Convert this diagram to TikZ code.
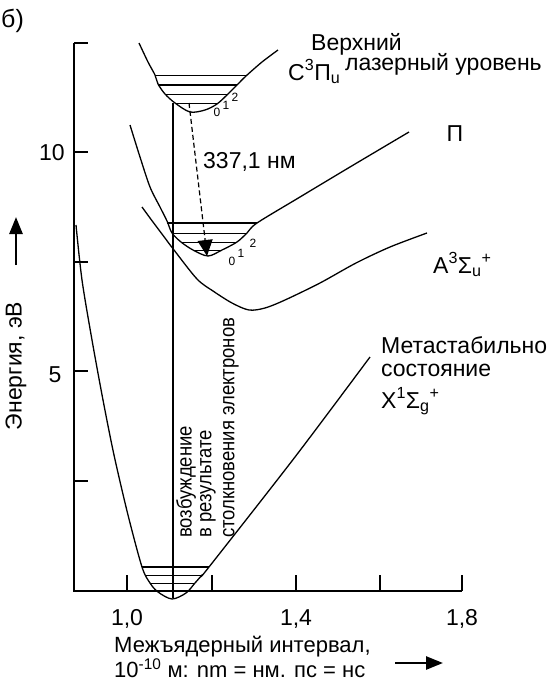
\documentclass[tikz,border=0pt]{standalone}
\usepackage{fontspec}
\usepackage{graphicx}
\setmainfont{Liberation Sans}
\usetikzlibrary{arrows.meta}
\newcommand{\trm}[2]{\textsubscript{#2}\textsuperscript{#1}}

\begin{document}
\begin{tikzpicture}[x=1pt, y=-1pt,
    txt/.style={font=\fontsize{23}{25}\selectfont, inner sep=0pt},
    rtxt/.style={font=\fontsize{21}{22}\selectfont, inner sep=0pt, rotate=90, anchor=west},
    num/.style={font=\fontsize{12}{13}\selectfont, inner sep=0pt},
    curve/.style={line width=1.3pt},
    lvl/.style={line width=0.9pt},
    lvlthick/.style={line width=2.4pt},
    axis/.style={line width=2pt},
    >={Triangle[length=17pt,width=13pt]}]
  \useasboundingbox (0,0) rectangle (557,681);

  % axes
  \coordinate (ytop) at (74,43);
  \coordinate (orig) at (74,591);
  \coordinate (xend) at (462,591);
  \draw[axis] (ytop) -- (orig) -- (xend);
  \foreach \t in {43,152,262,371,481}
    \draw[axis] (74,\t) -- +(14,0);
  \foreach \t in {127,212,296,380,462}
    \draw[axis] (\t,591) -- +(0,-16);
  \node[txt, anchor=base] (t10) at (127,625) {1,0};
  \node[txt, anchor=base] (t14) at (296,625) {1,4};
  \node[txt, anchor=base] (t18) at (462,625) {1,8};
  \node[txt, anchor=base] (e10) at (52,160) {10};
  \node[txt, anchor=base] (e5) at (55,382) {5};
  \node[txt, font=\fontsize{25}{27}\selectfont, anchor=base west] (fig) at (1,27) {б)};

  % axis labels
  \node[txt, rotate=90] (elbl) at (16,366) {Энергия, эВ};
  \coordinate (ea) at (16,265);
  \coordinate (eb) at (16,217);
  \draw[->, line width=2.6pt] (ea) -- (eb);
  \node[txt, font=\fontsize{22}{24}\selectfont, anchor=base west] (rlbl) at (114,652) {Межъядерный интервал,};
  \node[txt, font=\fontsize{22}{24}\selectfont, anchor=base west] (rlbl2) at (114,677) {10\textsuperscript{-10} м: nm = нм. пс = нс};
  \coordinate (ra) at (395,663);
  \coordinate (rb) at (443,663);
  \draw[->, line width=2.6pt] (ra) -- (rb);

  % C state
  \draw[curve] plot[smooth] coordinates {(139,43) (148,62) (155,75) (158,84)
    (165,94) (175,103) (190,112) (205,110) (217,104) (228,94) (237,85)
    (246,76) (262,62) (278,50)};
  \foreach \y/\a/\b in {75/155/246, 94/165/228, 103/175/217}
    \draw[lvl] (\a,\y) -- (\b,\y);
  \draw[lvlthick] (158,85) -- (237,85);
  \node[num] (cv0) at (217,112) {0};
  \node[num] (cv1) at (226,105) {1};
  \node[num] (cv2) at (235,97) {2};

  % Pi state
  \draw[curve] plot[smooth] coordinates {(130,125) (140,157) (150,187)
    (160,207) (167,221) (172,233) (181,242) (193,250) (208,256) (222,250)
    (237,242) (247,233) (257,223) (300,197) (350,167) (409,132)};
  \foreach \y/\a/\b in {233/172/247, 242/181/237, 250/193/222}
    \draw[lvl] (\a,\y) -- (\b,\y);
  \draw[lvlthick] (167,223) -- (257,223);
  \node[num] (bv0) at (232,261) {0};
  \node[num] (bv1) at (241,253) {1};
  \node[num] (bv2) at (253,243) {2};

  % A state
  \draw[curve] plot[smooth] coordinates {(142,207) (150,218) (162,234)
    (174,250) (197,279) (213,291) (232,303) (249,310) (265,308) (285,300)
    (320,283) (356,263) (390,247) (427,233)};

  % X state
  \draw[curve] plot[smooth] coordinates {(76,225) (82,280) (92,340)
    (103,400) (114,455) (128,515) (142,567) (150,583) (158,592) (172,599)
    (186,593) (195,583) (202,575) (209,567) (295,457) (370,357)};
  \foreach \y/\a/\b in {575/146/202, 583/150/195}
    \draw[lvl] (\a,\y) -- (\b,\y);
  \draw[lvlthick] (142,567) -- (209,567);

  % transitions
  \coordinate (x0) at (173,598);
  \coordinate (cl) at (173,103);
  \draw[line width=1.6pt] (x0) -- (cl);
  \coordinate (c0) at (189,103);
  \coordinate (b0) at (207,256);
  \draw[->, >={Triangle[length=16pt,width=15pt]}, dashed, dash pattern=on 5pt off 3pt,
    line width=1.2pt] (c0) -- (b0);
  \node[txt, anchor=base west] (wl) at (203,168) {337,1 нм};
  \node[rtxt] (exc1) at (186,538) {\scalebox{0.88}[1]{возбуждение}};
  \node[rtxt] (exc2) at (208,538) {\scalebox{0.88}[1]{в результате}};
  \node[rtxt] (exc3) at (231,538) {\scalebox{0.88}[1]{столкновения электронов}};

  % state labels
  \node[txt, anchor=base west] (up1) at (311,50) {Верхний};
  \node[txt, anchor=base west] (cst) at (288,80) {C\textsuperscript{3}Π\textsubscript{u}};
  \node[txt, anchor=base west] (up2) at (345,70) {лазерный уровень};
  \node[txt] (pst) at (455,134) {Π};
  \node[txt, anchor=base west] (ast) at (433,273) {A\textsuperscript{3}Σ\trm{+}{u}};
  \node[txt, anchor=base west] (meta1) at (381,353) {Метастабильно};
  \node[txt, anchor=base west] (meta2) at (381,376) {состояние};
  \node[txt, anchor=base west] (xst) at (381,408) {X\textsuperscript{1}Σ\trm{+}{g}};
\end{tikzpicture}
\end{document}
